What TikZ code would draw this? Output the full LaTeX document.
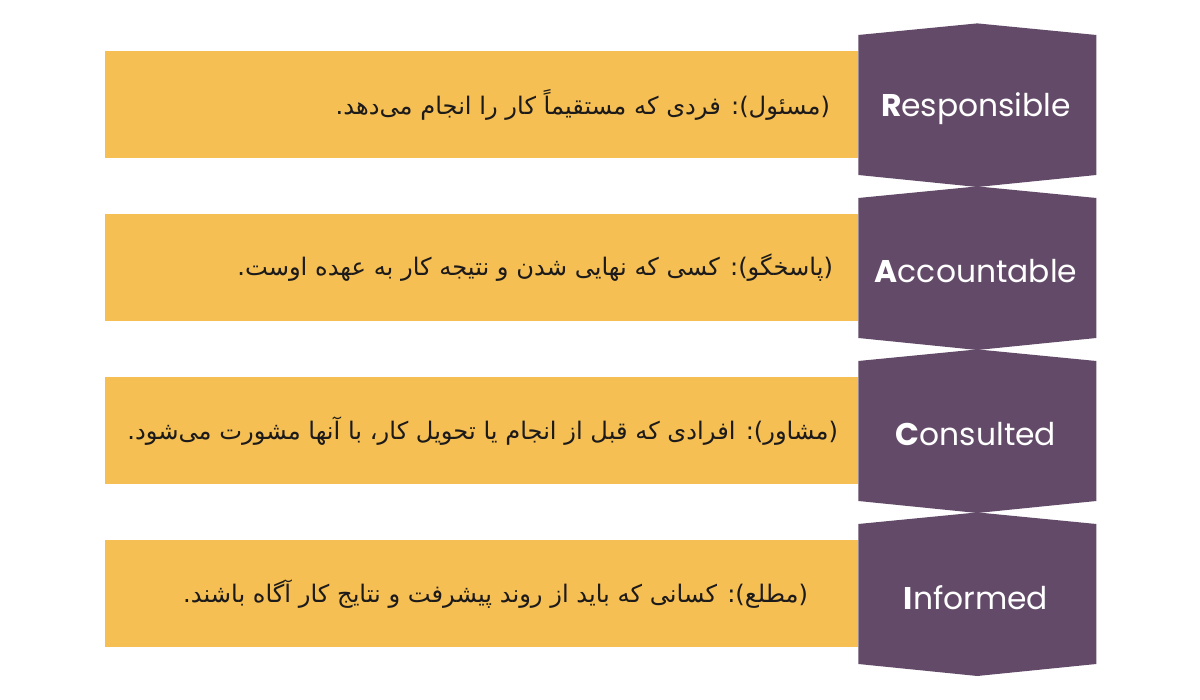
\documentclass[tikz,border=0pt]{standalone}
\usepackage{fontspec}
\setmainfont{Poppins}
\newfontfamily\farsi[Script=Arabic]{DejaVu Sans}
\TeXXeTstate=1
\usetikzlibrary{positioning}
\definecolor{sand}{HTML}{F5BF53}
\definecolor{plum}{HTML}{634A68}
\definecolor{ink}{HTML}{1C1A1A}
\tikzset{bar/.style={fill=sand,minimum width=18.825cm,minimum height=2.675cm,inner sep=0pt}}
\tikzset{role/.style={text=white,inner sep=0pt,yshift=-0.08cm,font=\fontsize{22.3}{26}\selectfont}}
\tikzset{desc/.style={anchor=east,text=ink,inner sep=0pt,font=\farsi\fontsize{17.2}{21}\selectfont}}
\tikzset{tab/.style={fill=plum}}

\begin{document}
\begin{tikzpicture}[node distance=4.075cm]
    \useasboundingbox[fill=white] (0,0) rectangle (30,17.5);

    \node[bar] (barR) at (12.0375,14.875) {};
    \node[bar,below of=barR] (barA) {};
    \node[bar,below of=barA] (barC) {};
    \node[bar,below of=barC] (barI) {};

    \foreach \b in {barR,barA,barC,barI}
        \path[tab] (\b.east) ++(0,1.75) -- ++(2.975,0.29) -- ++(2.975,-0.29) -- ++(0,-3.5)
            -- ++(-2.975,-0.3) -- ++(-2.975,0.3) -- cycle;

    \node[role,right of=barR,node distance=12.3625cm] (resp) {\textbf{R}esponsible};
    \node[role,right of=barA,node distance=12.3625cm] (acc) {\textbf{A}ccountable};
    \node[role,right of=barC,node distance=12.3625cm] (cons) {\textbf{C}onsulted};
    \node[role,right of=barI,node distance=12.3625cm] (inf) {\textbf{I}nformed};

    \node[desc] (dR) at ([xshift=-0.7cm]barR.east) {\beginR (مسئول): فردی که مستقیماً کار را انجام می‌دهد.\endR};
    \node[desc] (dA) at ([xshift=-0.625cm]barA.east) {\beginR (پاسخگو): کسی که نهایی شدن و نتیجه کار به عهده اوست.\endR};
    \node[desc] (dC) at ([xshift=-0.5cm]barC.east) {\beginR (مشاور): افرادی که قبل از انجام یا تحویل کار، با آنها مشورت می‌شود.\endR};
    \node[desc] (dI) at ([xshift=-1.25cm]barI.east) {\beginR (مطلع): کسانی که باید از روند پیشرفت و نتایج کار آگاه باشند.\endR};
\end{tikzpicture}
\end{document}
